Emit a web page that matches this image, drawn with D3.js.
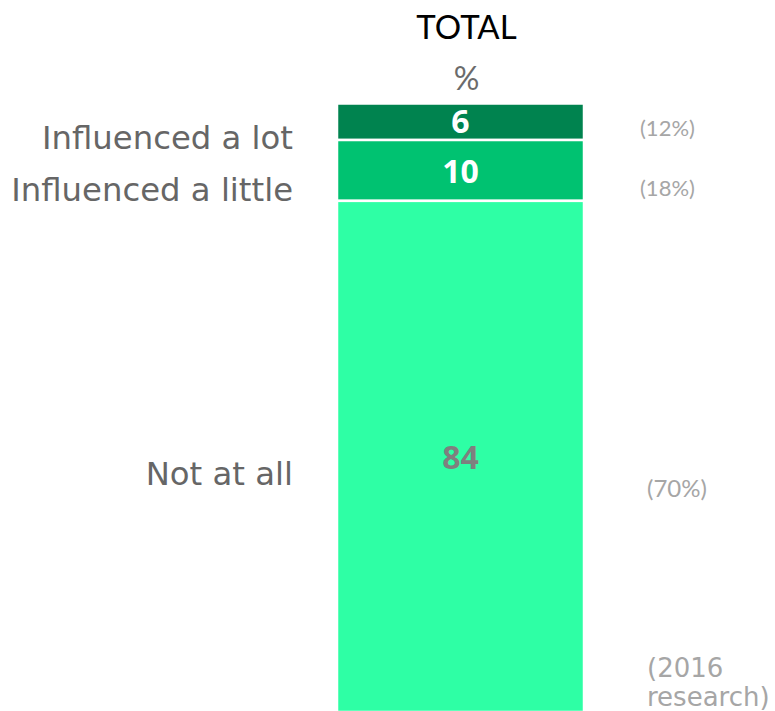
<!DOCTYPE html>
<html>
<head>
<meta charset="utf-8">
<script src="https://cdn.jsdelivr.net/npm/d3@7"></script>
<style>
  html, body { margin: 0; padding: 0; background: #fff; }
  svg { display: block; }
</style>
</head>
<body>
<svg id="chart" width="775" height="711"></svg>
<script>
// Answer categories, stacked top to bottom
const categories = ["Influenced a lot", "Influenced a little", "Not at all"];
// Current shares (%)
const values = [6, 10, 84];
// Shares from the earlier study, shown alongside
const previous = ["(12%)", "(18%)", "(70%)"];
const columnTitle = "TOTAL";
const unitLabel = "%";
const footnote = ["(2016", "research)"];

const colors = ["#00834F", "#00C271", "#2EFFA5"];
const valueColors = ["#ffffff", "#ffffff", "#7F7F7F"];

const svg = d3.select("#chart");

// Stack the shares
let acc = 0;
const stacked = values.map((v, i) => {
  const d = { cat: categories[i], value: v, y0: acc, y1: acc + v, i };
  acc += v;
  return d;
});

const x = d3.scaleBand().domain([columnTitle]).range([337, 584]).padding(0);
const y = d3.scaleLinear().domain([0, d3.sum(values)]).range([103.5, 712]);

// Bar segments
svg.selectAll("rect.seg")
  .data(stacked)
  .join("rect")
  .attr("class", "seg")
  .attr("x", x(columnTitle))
  .attr("width", x.bandwidth())
  .attr("y", d => y(d.y0))
  .attr("height", d => y(d.y1) - y(d.y0))
  .attr("fill", d => colors[d.i])
  .attr("stroke", "#fff")
  .attr("stroke-width", 2.5);

const cx = x(columnTitle) + x.bandwidth() / 2;

// Column header
svg.append("text")
  .attr("x", cx + 6).attr("y", 39)
  .attr("text-anchor", "middle")
  .attr("font-family", "Lato, 'Open Sans', sans-serif")
  .attr("font-size", 33)
  .attr("fill", "#000")
  .text(columnTitle);

svg.append("text")
  .attr("x", cx + 6).attr("y", 90)
  .attr("text-anchor", "middle")
  .attr("font-family", "Lato, 'Open Sans', sans-serif")
  .attr("font-size", 32)
  .attr("fill", "#6B6B6B")
  .text(unitLabel);

// Value labels inside segments
const valueY = [133, 183, 469];
svg.selectAll("text.val")
  .data(stacked)
  .join("text")
  .attr("class", "val")
  .attr("x", cx)
  .attr("y", (d, i) => valueY[i])
  .attr("text-anchor", "middle")
  .attr("font-family", "'Open Sans', Lato, sans-serif")
  .attr("font-weight", 700)
  .attr("font-size", 32)
  .attr("fill", d => valueColors[d.i])
  .text(d => d.value);

// Category labels on the left
const catY = [149, 201, 485];
svg.selectAll("text.cat")
  .data(stacked)
  .join("text")
  .attr("class", "cat")
  .attr("x", 293)
  .attr("y", (d, i) => catY[i])
  .attr("text-anchor", "end")
  .attr("font-family", "'DejaVu Sans', Verdana, sans-serif")
  .attr("font-size", 32.3)
  .attr("fill", "#666666")
  .text(d => d.cat);

// Earlier-study comparisons on the right
const prevPos = [
  { x: 640, y: 136, size: 22 },
  { x: 640, y: 196, size: 22 },
  { x: 647, y: 497, size: 24 }
];
svg.selectAll("text.prev")
  .data(previous)
  .join("text")
  .attr("class", "prev")
  .attr("x", (d, i) => prevPos[i].x)
  .attr("y", (d, i) => prevPos[i].y)
  .attr("font-family", "Lato, 'Open Sans', sans-serif")
  .attr("font-size", (d, i) => prevPos[i].size)
  .attr("fill", "#A6A6A6")
  .text(d => d);

svg.selectAll("text.note")
  .data(footnote)
  .join("text")
  .attr("class", "note")
  .attr("x", 647)
  .attr("y", (d, i) => 677 + i * 29)
  .attr("font-family", "'DejaVu Sans', Verdana, sans-serif")
  .attr("font-size", 26)
  .attr("fill", "#A6A6A6")
  .text(d => d);
</script>
</body>
</html>
